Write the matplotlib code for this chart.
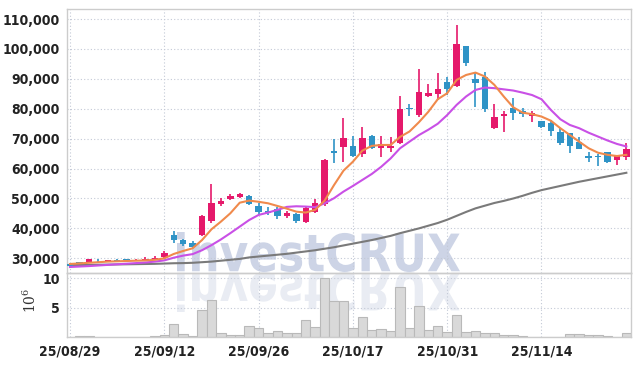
import matplotlib
matplotlib.use("Agg")
import matplotlib.pyplot as plt
import numpy as np
from matplotlib.textpath import TextPath
from matplotlib.patches import PathPatch
from matplotlib.font_manager import FontProperties, findfont
from matplotlib.transforms import Affine2D, IdentityTransform

# ---- data (60 trading days) ----
tick_pos = [0, 10, 20, 30, 40, 50]
tick_labels = ["25/08/29", "25/09/12", "25/09/26", "25/10/17", "25/10/31", "25/11/14"]

opens = [28000, 28700, 28800, 29500, 28900, 29500, 29700, 29300, 29400, 29700,
         30300, 37800, 36100, 35200, 37800, 42600, 48200, 49950, 50600, 50850,
         47500, 45900, 46400, 44270, 44830, 42260, 45600, 48200, 66000, 67350,
         67600, 64790, 70900, 67020, 67020, 68690, 80400, 77950, 84300, 84970,
         88870, 87650, 101000, 89990, 90540, 73490, 77600, 80400, 79280, 77610,
         75940, 75380, 72150, 71800, 68800, 64340, 64200, 65460, 62890, 64010]
highs = [28100, 28900, 29900, 29700, 29600, 29700, 29900, 29700, 30300, 30700,
         32400, 39250, 36600, 35800, 44500, 54900, 50000, 51500, 52000, 51200,
         48400, 47000, 47300, 45800, 45300, 47500, 49700, 63100, 69900, 76800,
         70900, 73800, 71200, 70900, 70400, 84400, 81700, 93220, 88200, 91900,
         90500, 108050, 101000, 92440, 92200, 81500, 79300, 83500, 80200, 79300,
         75940, 76300, 73500, 72000, 70700, 65700, 64900, 65460, 64340, 68700]
lows = [27300, 28300, 28700, 28900, 28800, 28900, 29200, 29100, 29200, 29500,
        30200, 35200, 34100, 33300, 37300, 41900, 47600, 49400, 50000, 47800,
        44500, 44500, 43000, 43400, 41900, 41900, 45000, 47500, 61800, 62100,
        63800, 63900, 66500, 64000, 65400, 68200, 77600, 77200, 83800, 82900,
        84600, 87200, 94300, 80730, 79000, 73100, 72100, 76300, 77200, 75700,
        73500, 70900, 67900, 65100, 66570, 62300, 60900, 62000, 61200, 62800]
closes = [27400, 28400, 29800, 29300, 29400, 29000, 29400, 29500, 29900, 30200,
          31800, 36100, 34800, 33900, 44200, 48600, 49300, 50850, 51400, 48300,
          45600, 45300, 44150, 45050, 42600, 46950, 48400, 62900, 65300, 70140,
          64230, 70140, 66800, 68240, 67690, 79840, 79900, 85530, 85200, 86530,
          86530, 101700, 95450, 88760, 79840, 77390, 78100, 78730, 78170, 78500,
          74040, 72700, 68690, 67690, 66570, 63500, 63900, 62340, 64340, 66460]

ma_short = [28100, 28300, 28500, 28700, 28900, 29000, 29100, 29200, 29300, 29500,
            30000, 31450, 32450, 33350, 36100, 39700, 42260, 45050, 48600, 49300,
            48900, 48400, 47500, 46600, 45600, 45300, 46200, 49300, 54500, 59300,
            62300, 66000, 67600, 67900, 67900, 70600, 72400, 75500, 79000, 83200,
            85200, 89650, 91300, 92100, 90800, 88000, 84100, 80500, 78700, 78200,
            77400, 76000, 73500, 71250, 69000, 66800, 65300, 64600, 64200, 64600]
ma_mid = [27100, 27250, 27400, 27600, 27800, 28000, 28200, 28400, 28600, 28900,
          29300, 30200, 30900, 31400, 32700, 34400, 36300, 38400, 40600, 42800,
          44500, 45300, 46200, 47200, 47400, 47300, 47100, 48400, 50100, 52300,
          54200, 56200, 58200, 60600, 63400, 66800, 69000, 71200, 73000, 75000,
          77900, 81300, 84100, 86300, 87100, 86900, 86500, 86100, 85400, 84600,
          83200, 79600, 76500, 74600, 73500, 72000, 70700, 69400, 68250, 67400]
ma_long = [27700, 27750, 27800, 27850, 27900, 27950, 28000, 28050, 28100, 28150,
           28250, 28350, 28400, 28500, 28700, 28900, 29200, 29500, 29800, 30300,
           30600, 30900, 31200, 31500, 31900, 32300, 32700, 33200, 33700, 34300,
           34900, 35500, 36100, 36800, 37500, 38400, 39200, 40000, 40900, 41800,
           42900, 44200, 45500, 46700, 47600, 48500, 49200, 50000, 50900, 51900,
           52800, 53500, 54200, 54900, 55600, 56200, 56800, 57400, 58000, 58600]

volume = [0.05, 0.15, 0.15, 0.05, 0.02, 0.02, 0.02, 0.05, 0.1, 0.15,
          0.35, 2.25, 0.55, 0.2, 4.7, 6.4, 0.7, 0.45, 0.45, 1.9,
          1.5, 0.75, 1.05, 0.75, 0.75, 2.9, 1.7, 10.0, 6.1, 6.1,
          1.6, 3.5, 1.2, 1.35, 1.05, 8.5, 1.5, 5.3, 1.2, 1.9,
          0.95, 3.8, 0.95, 1.05, 0.75, 0.75, 0.35, 0.35, 0.15, 0.1,
          0.1, 0.05, 0.1, 0.5, 0.5, 0.35, 0.35, 0.3, 0.1, 0.75]

UP = "#e5196b"
DOWN = "#2f93c6"
GRID = "#c3c9d6"
FRAME = "#cccccc"
TXT = "#222222"

# narrow bold face if the system has one, otherwise a compact bold sans
cond = FontProperties(family="DejaVu Sans", weight="bold", stretch="condensed")
if "Condensed" in findfont(cond):
    label_font = dict(family="DejaVu Sans", weight="bold", stretch="condensed", size=10)
else:
    label_font = dict(family="Roboto", weight="bold", size=9.5)

fig = plt.figure(figsize=(6.39, 3.66), dpi=100)
ax = fig.add_axes([0.1044, 0.2549, 0.8826, 0.7197])
vax = fig.add_axes([0.1044, 0.0784, 0.8826, 0.1765], sharex=ax)
for a in (ax, vax):
    a.set_facecolor("none")
    for s in a.spines.values():
        s.set_color(FRAME)
        s.set_linewidth(1.0)
    a.grid(True, color=GRID, linestyle=(0, (1, 2)), linewidth=0.8)
    a.set_axisbelow(True)
    a.tick_params(length=0, colors=TXT)

x = np.arange(len(opens))
o = np.array(opens); c = np.array(closes)
h = np.array(highs); l = np.array(lows)
up = c >= o
cols = np.where(up, UP, DOWN)
ax.vlines(x, l, h, colors=cols, linewidth=1.2, zorder=3)
body_lo = np.minimum(o, c)
body_h = np.maximum(np.abs(c - o), 300)
ax.bar(x, body_h, bottom=body_lo, width=0.68, color=cols, linewidth=0, zorder=4)

ax.plot(x, ma_long, color="#7a7a7a", lw=1.5, zorder=2)
ax.plot(x, ma_mid, color="#c950e6", lw=1.5, zorder=5)
ax.plot(x, ma_short, color="#f08a4c", lw=1.5, zorder=6)

ax.set_xlim(-0.35, 59.46)
ax.set_ylim(25185, 113266)
ax.set_yticks(np.arange(30000, 110001, 10000))
ax.set_yticklabels([f"{v:,}" for v in range(30000, 110001, 10000)], **label_font)
ax.tick_params(axis="y", pad=5)
ax.tick_params(axis="x", labelbottom=False)

vax.bar(x, volume, width=1.0, color="#d9d9d9", edgecolor="#b9b9b9", linewidth=0.8, zorder=2)
vax.set_ylim(0, 10.95)
vax.set_yticks([5, 10])
vax.set_yticklabels(["5", "10"], **label_font)
vax.set_xticks(tick_pos)
vax.set_xticklabels(tick_labels, **label_font)
vax.tick_params(axis="y", pad=5)
vax.tick_params(axis="x", pad=5)
fig.text(30 / 639, 1 - 300 / 366, r"$10^6$", rotation=90, ha="center", va="center",
         fontsize=10, color="#333333", math_fontfamily="dejavuserif")

# watermark + reflection (figure pixel coordinates)
tp = TextPath((0, 0), "investCRUX", size=100, prop=FontProperties(family="DejaVu Sans", weight="bold"))
bb = tp.get_extents()
x0, x1 = 177, 460
base = 366 - 272
cap = 40
sx = (x1 - x0) / bb.width
sy = cap / bb.height
t_main = Affine2D().translate(-bb.x0, -bb.y0).scale(sx, sy).translate(x0, base)
t_refl = Affine2D().translate(-bb.x0, -bb.y0).scale(sx, -sy).translate(x0, base)
fig.add_artist(PathPatch(t_main.transform_path(tp), facecolor="#cdd4e6", lw=0,
                         transform=IdentityTransform(), zorder=-1))
fig.add_artist(PathPatch(t_refl.transform_path(tp), facecolor="#e9ecf3", lw=0,
                         transform=IdentityTransform(), zorder=-1))

fig.savefig("out.png", dpi=100, facecolor="white")
